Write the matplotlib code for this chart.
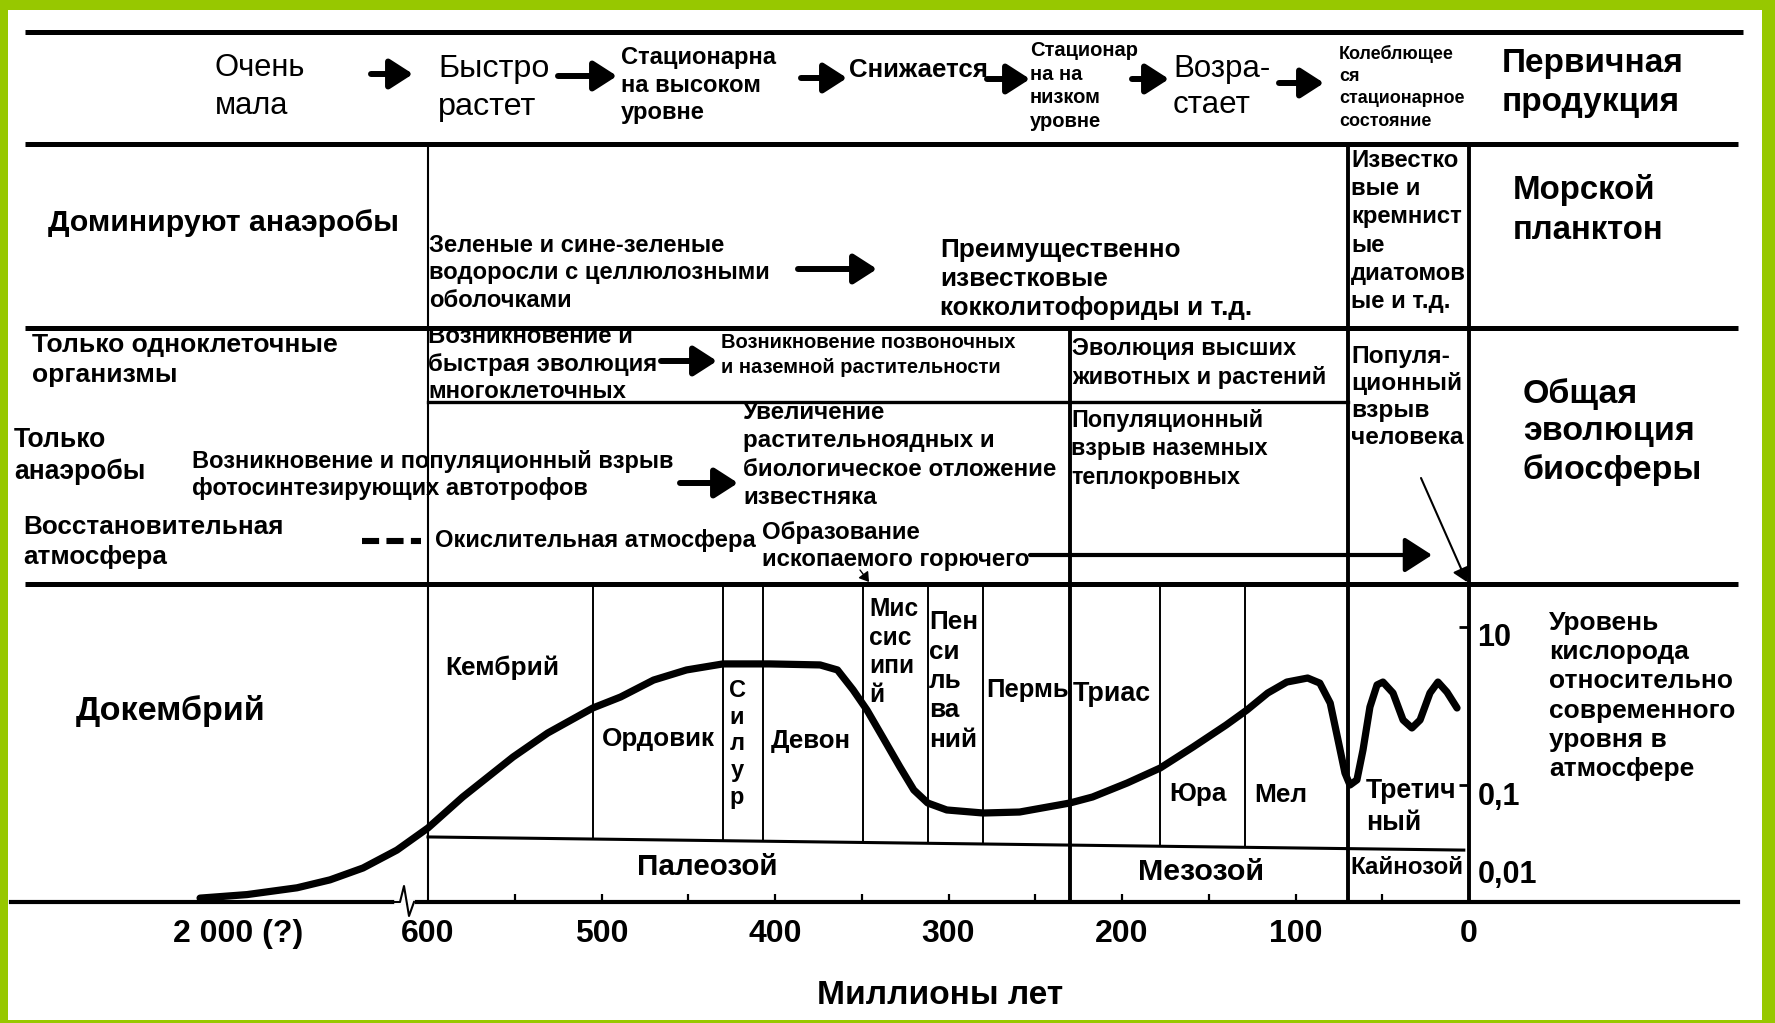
import numpy as np
import matplotlib
matplotlib.use("Agg")
import matplotlib.pyplot as plt
from matplotlib.patches import Rectangle
from matplotlib.transforms import Affine2D, ScaledTranslation
from matplotlib.ticker import FixedLocator, NullLocator

plt.rcParams["font.family"] = ["Liberation Sans", "DejaVu Sans"]

# ============================================================
# Data
# ============================================================

# oxygen level relative to present (log scale) vs age in million years
age_ma = [2280, 1934, 1565, 1322, 1079, 829, 600, 580, 551, 531, 505, 489,
          470, 451, 430, 403, 374, 364, 355, 347, 338, 328, 320, 312, 301,
          280, 259, 230, 217, 197, 178, 159, 140, 128, 116, 105, 93, 86, 80,
          75.5, 71.5, 68.6, 64.6, 61.1, 57.1, 53, 49.6, 43.8, 38, 32.9, 28.2,
          22.5, 17.9, 12.7, 6.9]
oxygen = [0.0037, 0.0041, 0.0050, 0.0063, 0.0089, 0.0150, 0.0286, 0.0705,
          0.226, 0.455, 0.944, 1.30, 2.13, 2.86, 3.41, 3.41, 3.31, 2.86,
          1.60, 0.889, 0.406, 0.169, 0.0865, 0.0592, 0.0483, 0.0442, 0.0455,
          0.0592, 0.0705, 0.106, 0.164, 0.303, 0.574, 0.889, 1.46, 2.01,
          2.26, 1.95, 1.09, 0.372, 0.142, 0.100, 0.116, 0.277, 0.971, 1.85,
          2.01, 1.46, 0.665, 0.527, 0.665, 1.46, 2.01, 1.50, 0.944]

# period boundaries (Ma)
period_bounds = [505, 430, 407, 349, 312, 280, 178, 129]
era_bounds = [230, 70]
cambrian_start = 600

# line between periods and eras
era_line_age = [600, 3]
era_line_level = [0.022, 0.015]

xtick_ages = [2000, 600, 500, 400, 300, 200, 100, 0]
xtick_labels = ["2 000 (?)", "600", "500", "400", "300", "200", "100", "0"]
minor_ages = [550, 500, 450, 400, 350, 300, 250, 200, 150, 100, 50]
ytick_levels = [10, 0.1, 0.01]
ytick_labels = ["10", "0,1", "0,01"]

# ============================================================
# Figure and pixel overlay
# ============================================================
W, H = 1775, 1023
GREEN = "#97c800"

fig = plt.figure(figsize=(W / 100, H / 100), dpi=100, facecolor=GREEN)
bg = fig.add_axes([0, 0, 1, 1])
bg.set_xlim(0, W)
bg.set_ylim(H, 0)
bg.axis("off")
bg.add_patch(Rectangle((8, 10), 1754, 1010, facecolor="white", edgecolor="none"))

renderer = fig.canvas.get_renderer()


def label(x, y, s, width=None, gap=None, weight="bold", ha="left", size=None):
    t = bg.text(x, y, s, fontsize=10, fontweight=weight, ha=ha, va="center")
    if size is None:
        w = t.get_window_extent(renderer).width
        size = 10 * width / w
    t.set_fontsize(size)
    if gap:
        f = size * 100 / 72
        t.set_linespacing((gap / f - 0.21) / 0.73)
    return t


def arrow(x0, y0, x1, y1, lw=4.3, head=20):
    bg.annotate("", xy=(x1, y1), xytext=(x0, y0),
                arrowprops=dict(arrowstyle="-|>,head_length=0.7,head_width=0.45",
                                lw=lw, color="k", mutation_scale=head,
                                shrinkA=0, shrinkB=0))


# ============================================================
# Oxygen chart (data axes)
# ============================================================
K = 0.0782          # compression of the Precambrian part
PX_MA = 1041 / 600  # pixels per million years
X0 = 1469           # pixel of 0 Ma
ax_left, ax_right, ax_top, ax_bot = 11, 1738, 584, 902


def fwd(t):
    t = np.asarray(t, dtype=float)
    return np.where(t <= 600, t, 600 + (t - 600) * K)


def inv(e):
    e = np.asarray(e, dtype=float)
    return np.where(e <= 600, e, 600 + (e - 600) / K)


ax = fig.add_axes([ax_left / W, 1 - ax_bot / H, (ax_right - ax_left) / W,
                   (ax_bot - ax_top) / H])
ax.patch.set_alpha(0)
ax.set_xscale("function", functions=(fwd, inv))
ax.set_xlim(float(inv((X0 - ax_left) / PX_MA)), (X0 - ax_right) / PX_MA)
ax.set_yscale("log")
ax.set_ylim(10 ** (1 - (ax_bot - 627) / 79), 10 ** (1 + (627 - ax_top) / 79))

ax.plot(age_ma, oxygen, color="k", lw=5.2, solid_joinstyle="round",
        solid_capstyle="round", clip_on=False, zorder=5)

top = ax.get_ylim()[1]
era_log = np.log10(era_line_level)


def era_level(t):
    frac = (era_line_age[0] - t) / (era_line_age[0] - era_line_age[1])
    return 10 ** (era_log[0] + frac * (era_log[1] - era_log[0]))


ax.plot(era_line_age, era_line_level, color="k", lw=2.2)
for b in period_bounds:
    ax.vlines(b, era_level(b), top, color="k", lw=1.4)
ax.axvline(cambrian_start, color="k", lw=1.5)
for b in era_bounds:
    ax.axvline(b, color="k", lw=2.8)

for side in ["left", "top"]:
    ax.spines[side].set_visible(False)
ax.spines["bottom"].set_linewidth(3.0)
ax.spines["right"].set_position(("data", 0))
ax.spines["right"].set_linewidth(2.8)

ax.set_xticks(xtick_ages, xtick_labels)
ax.xaxis.set_minor_locator(FixedLocator(minor_ages))
ax.xaxis.remove_overlapping_locs = False
ax.tick_params(axis="x", which="major", length=0, pad=12, labelsize=23)
ax.tick_params(axis="x", which="minor", direction="in", length=6, width=1.6)
for t in ax.get_xticklabels():
    t.set_fontweight("bold")

ax.yaxis.tick_right()
ax.set_yticks(ytick_levels, ytick_labels)
ax.yaxis.set_minor_locator(NullLocator())
ax.tick_params(axis="y", direction="in", length=7, width=2, pad=6, labelsize=22)
shift = ScaledTranslation(0, -8 / 100, fig.dpi_scale_trans)
for t in ax.get_yticklabels():
    t.set_fontweight("bold")
    t.set_transform(t.get_transform() + shift)
for tick, lev in zip(ax.yaxis.get_major_ticks(), ytick_levels):
    if lev == 0.01:
        tick.tick2line.set_visible(False)


# pixel x of the long boundaries, so the table lines line up with the chart
def px(t):
    return ax.transData.transform((t, 1))[0]


x600, x230, x70, x0 = px(600), px(230), px(70), px(0)

# break of the time axis
pix = Affine2D().scale(1, -1).translate(0, H)
ax.plot([397, 412], [902, 902], color="white", lw=4, transform=pix, clip_on=False, zorder=6)
ax.plot([394, 400, 404, 409, 414], [902, 902, 886, 916, 902], color="k", lw=1.5,
        transform=pix, clip_on=False, zorder=7)

# ============================================================
# Table lines
# ============================================================
for y, x1, x2 in [(32, 25, 1743), (144, 25, 1738), (328, 25, 1738), (584, 25, 1738)]:
    bg.plot([x1, x2], [y, y], color="k", lw=3.6, solid_capstyle="butt")
bg.plot([x600, x70], [402, 402], color="k", lw=2.4)
bg.plot([x600, x600], [144, 584], color="k", lw=1.5)
bg.plot([x230, x230], [328, 584], color="k", lw=2.8)
bg.plot([x70, x70], [144, 584], color="k", lw=2.8)
bg.plot([x0, x0], [144, 584], color="k", lw=2.8)

# ============================================================
# Texts
# ============================================================
# row 1: primary production
label(215, 87, "Очень\nмала", 91, 36, weight="normal")
label(438, 88, "Быстро\nрастет", 112, 39, weight="normal")
label(621, 85, "Стационарна\nна высоком\nуровне", 155, 27)
label(849, 70, "Снижается", 139)
label(1030, 86, "Стационар\nна на\nнизком\nуровне", 108, 23.7)
label(1173, 87, "Возра-\nстает", 97, 36, weight="normal")
label(1339, 87, "Колеблющее\nся\nстационарное\nсостояние", 125, 22.3)
label(1502, 83, "Первичная\nпродукция", 181, 40)
for x_a, x_b, y in [(371, 413, 74), (558, 617, 76), (801, 847, 78),
                    (987, 1030, 79), (1132, 1169, 79), (1279, 1324, 83)]:
    arrow(x_a, y, x_b, y)

# row 2: marine plankton
label(48, 223, "Доминируют анаэробы", 351)
label(429, 273, "Зеленые и сине-зеленые\nводоросли с целлюлозными\nоболочками", 341, 27)
arrow(798, 269, 877, 269)
label(940, 279, "Преимущественно\nизвестковые\nкокколитофориды и т.д.", 314, 29.5)
label(1351, 231, "Известко\nвые и\nкремнист\nые\nдиатомов\nые и т.д.", 115, 27.4)
label(1513, 210, "Морской\nпланктон", 151, 41)

# row 3: evolution of the biosphere
label(32, 360, "Только одноклеточные\nорганизмы", 305, 30)
label(428, 364, "Возникновение и\nбыстрая эволюция\nмногоклеточных", 230, 27)
arrow(661, 361, 717, 361)
label(721, 355, "Возникновение позвоночных\nи наземной растительности", 295, 24)
label(1072, 363, "Эволюция высших\nживотных и растений", 255, 27)
label(1351, 397, "Популя-\nционный\nвзрыв\nчеловека", 112, 26.7)
label(1523, 432, "Общая\nэволюция\nбиосферы", 179, 39)
label(14, 456, "Только\nанаэробы", 131, 30)
label(192, 475, "Возникновение и популяционный взрыв\nфотосинтезирующих автотрофов", 482, 26)
arrow(680, 483, 738, 483)
label(743, 455, "Увеличение\nрастительноядных и\nбиологическое отложение\nизвестняка", 314, 27.7)
label(1071, 449, "Популяционный\nвзрыв наземных\nтеплокровных", 197, 27.5)
label(23, 542, "Восстановительная\nатмосфера", 259, 30)
bg.plot([362, 421], [541, 541], color="k", lw=4.4, linestyle=(0, (2.8, 1.2)))
label(435, 541, "Окислительная атмосфера", 321)
label(762, 546, "Образование\nископаемого горючего", 268, 27)
arrow(1030, 555, 1432, 555, lw=3.0, head=24)
arrow(1421, 478, 1467, 582, lw=1.5, head=12)
arrow(860, 570, 869, 582, lw=1.0, head=8)

# chart labels
label(76, 711, "Докембрий", 190)
label(445, 668, "Кембрий", 114)
label(602, 739, "Ордовик", 113)
label(737, 744, "С\nи\nл\nу\nр", gap=26, ha="center", size=17)
label(771, 741, "Девон", 80)
label(869, 652, "Мис\nсис\nипи\nй", 49, 27.3)
label(929, 681, "Пен\nси\nль\nва\nний", 49, 30)
label(986, 690, "Пермь", 83)
label(1073, 694, "Триас", 78)
label(1169, 794, "Юра", 57)
label(1254, 795, "Мел", 53)
label(1366, 807, "Третич\nный", 91, 31)
label(637, 867, "Палеозой", 140)
label(1138, 872, "Мезозой", 126)
label(1350, 868, "Кайнозой", 113)
label(1549, 696, "Уровень\nкислорода\nотносительно\nсовременного\nуровня в\nатмосфере", 186, 30)
label(817, 996, "Миллионы лет", 245)

fig.savefig("out.png", dpi=100, facecolor=GREEN)
